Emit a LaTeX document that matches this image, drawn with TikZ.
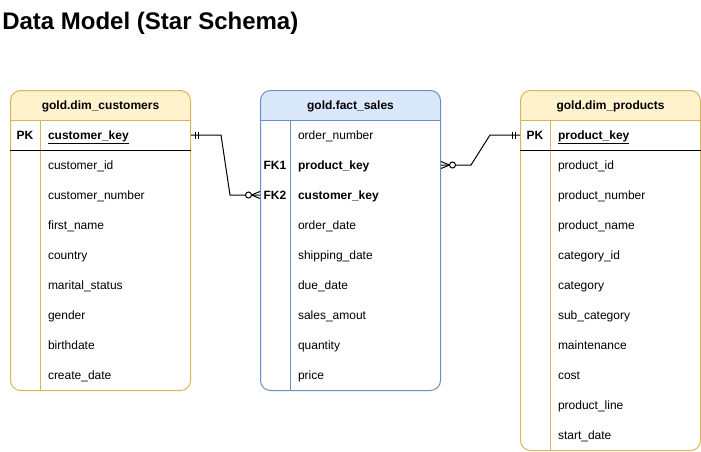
\documentclass[tikz,border=0pt]{standalone}
\usepackage{fontspec}
\setmainfont{Liberation Sans}
\usetikzlibrary{positioning, calc}

\definecolor{dimfill}{HTML}{FFF2CC}
\definecolor{dimline}{HTML}{D6B656}
\definecolor{factfill}{HTML}{DAE8FC}
\definecolor{factline}{HTML}{6C8EBF}

\begin{document}
\begin{tikzpicture}[
    x=0.75pt, y=-0.75pt,
    every node/.style={font=\fontsize{9}{11}\selectfont},
    erbox/.style 2 args={rectangle, draw=#2, line width=0.75pt, rounded corners=7.5pt, minimum width=135pt, anchor=north west, inner sep=0pt,
        path picture={
            \fill[#1, sharp corners] (path picture bounding box.north west) rectangle ([yshift=-22.5pt]path picture bounding box.north east);
            \draw[#2, sharp corners, line width=0.75pt] ([yshift=-22.5pt]path picture bounding box.north west) -- ([yshift=-22.5pt]path picture bounding box.north east);
            \draw[#2, sharp corners, line width=0.75pt] ([shift={(22.5pt,-22.5pt)}]path picture bounding box.north west) -- ([xshift=22.5pt]path picture bounding box.south west);
        }},
    dimtab/.style={erbox={dimfill}{dimline}},
    facttab/.style={erbox={factfill}{factline}},
    head/.style={font=\fontsize{9}{11}\selectfont\bfseries, minimum height=22.5pt, text height=8pt, text depth=1.6pt, inner sep=0pt, outer sep=0pt},
    row/.style={text width=100pt, align=left, minimum height=22.5pt, text height=8pt, text depth=1.6pt, inner sep=0pt, outer sep=0pt},
    keyrow/.style={row, font=\fontsize{9}{11}\selectfont\bfseries},
    keylab/.style={font=\fontsize{9}{11}\selectfont\bfseries, minimum width=22.5pt, text height=8pt, text depth=1.6pt, inner sep=0pt, outer sep=0pt, anchor=west},
    rel/.style={line width=0.75pt}
]
\useasboundingbox (0,0) rectangle (701,451);

% Title
\node[font=\fontsize{18}{22}\selectfont\bfseries, inner sep=0pt, anchor=base west] (title) at (2,29) {Data Model (Star Schema)};

% Customers dimension
\node[dimtab, minimum height=225pt] (cust) at (10,90) {};
\node[head, below=0pt of cust.north] (custhead) {gold.dim\_customers};
\node[keyrow, anchor=west] (ckey) at (48,135) {\underline{customer\_key}};
\node[row, below=0pt of ckey] (cid) {customer\_id};
\node[row, below=0pt of cid] (cnum) {customer\_number};
\node[row, below=0pt of cnum] (cfirst) {first\_name};
\node[row, below=0pt of cfirst] (ccountry) {country};
\node[row, below=0pt of ccountry] (cmarital) {marital\_status};
\node[row, below=0pt of cmarital] (cgender) {gender};
\node[row, below=0pt of cgender] (cbirth) {birthdate};
\node[row, below=0pt of cbirth] (ccreate) {create\_date};
\node[keylab] (cpk) at (cust.west |- ckey) {PK};
\draw[rel] (cust.west |- ckey.south) -- (cust.east |- ckey.south);

% Sales fact
\node[facttab, minimum height=225pt] (fact) at (260,90) {};
\node[head, below=0pt of fact.north] (facthead) {gold.fact\_sales};
\node[row, anchor=west] (forder) at (298,135) {order\_number};
\node[keyrow, below=0pt of forder] (fpk) {product\_key};
\node[keyrow, below=0pt of fpk] (fck) {customer\_key};
\node[row, below=0pt of fck] (fodate) {order\_date};
\node[row, below=0pt of fodate] (fship) {shipping\_date};
\node[row, below=0pt of fship] (fdue) {due\_date};
\node[row, below=0pt of fdue] (fsales) {sales\_amout};
\node[row, below=0pt of fsales] (fqty) {quantity};
\node[row, below=0pt of fqty] (fprice) {price};
\node[keylab] (ffk1) at (fact.west |- fpk) {FK1};
\node[keylab] (ffk2) at (fact.west |- fck) {FK2};

% Products dimension
\node[dimtab, minimum height=270pt] (prod) at (520,90) {};
\node[head, below=0pt of prod.north] (prodhead) {gold.dim\_products};
\node[keyrow, anchor=west] (pkey) at (558,135) {\underline{product\_key}};
\node[row, below=0pt of pkey] (pid) {product\_id};
\node[row, below=0pt of pid] (pnum) {product\_number};
\node[row, below=0pt of pnum] (pname) {product\_name};
\node[row, below=0pt of pname] (pcatid) {category\_id};
\node[row, below=0pt of pcatid] (pcat) {category};
\node[row, below=0pt of pcat] (psub) {sub\_category};
\node[row, below=0pt of psub] (pmaint) {maintenance};
\node[row, below=0pt of pmaint] (pcost) {cost};
\node[row, below=0pt of pcost] (pline) {product\_line};
\node[row, below=0pt of pline] (pstart) {start\_date};
\node[keylab] (ppk) at (prod.west |- pkey) {PK};
\draw[rel] (prod.west |- pkey.south) -- (prod.east |- pkey.south);

% customer_key relation
\draw[rel] (cust.east |- ckey) -- ++(30,0) -- ($(fact.west |- fck)+(-30,0)$) -- (fact.west |- fck);
\draw[rel] ($(cust.east |- ckey)+(4.5,-3.5)$) -- ++(0,7);
\draw[rel] ($(cust.east |- ckey)+(7.5,-3.5)$) -- ++(0,7);
\draw[rel] ($(fact.west |- fck)+(-8.5,0)$) -- ++(8.5,-3.5) ($(fact.west |- fck)+(-8.5,0)$) -- ++(8.5,3.5);
\draw[rel, fill=white] ($(fact.west |- fck)+(-11.5,0)$) circle[radius=2.25pt];

% product_key relation
\draw[rel] (fact.east |- fpk) -- ++(30,0) -- ($(prod.west |- pkey)+(-30,0)$) -- (prod.west |- pkey);
\draw[rel] ($(prod.west |- pkey)+(-4.5,-3.5)$) -- ++(0,7);
\draw[rel] ($(prod.west |- pkey)+(-7.5,-3.5)$) -- ++(0,7);
\draw[rel] ($(fact.east |- fpk)+(8.5,0)$) -- ++(-8.5,-3.5) ($(fact.east |- fpk)+(8.5,0)$) -- ++(-8.5,3.5);
\draw[rel, fill=white] ($(fact.east |- fpk)+(11.5,0)$) circle[radius=2.25pt];

\end{tikzpicture}
\end{document}
